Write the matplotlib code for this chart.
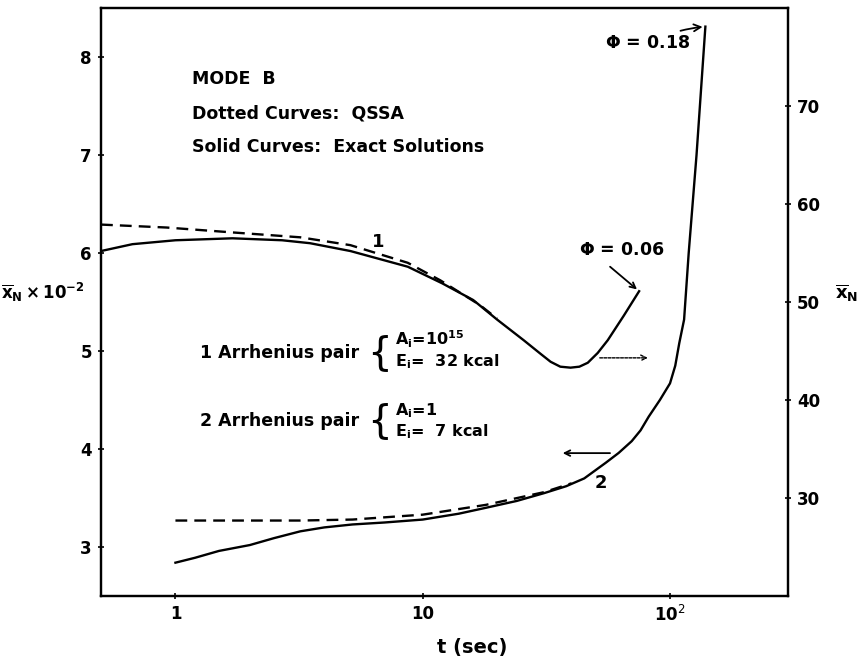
import matplotlib
matplotlib.use("Agg")
import matplotlib.pyplot as plt

# curve 1 (right axis, x_N): exact solution and QSSA
t1 = [0.5, 0.67, 1.0, 1.7, 2.7, 3.5, 5.1, 8.7, 12, 16, 20, 25.6, 30, 32.9, 36, 39.6, 43, 46.5, 51, 56, 65, 75]
x1 = [55.2, 55.9, 56.3, 56.5, 56.3, 56.0, 55.2, 53.6, 51.9, 50.2, 48.2, 46.1, 44.7, 43.9, 43.4, 43.3, 43.4, 43.8, 44.8, 46.1, 48.6, 51.1]
t1_q = [0.5, 0.92, 1.7, 3.2, 5.1, 8.7, 11.8, 17, 20]
x1_q = [57.9, 57.6, 57.1, 56.6, 55.8, 54.0, 52.2, 49.7, 48.3]

# curve 2 (left axis, x_N * 1e-2)
t2 = [1.0, 1.2, 1.5, 2.0, 2.5, 3.2, 4.0, 5.2, 7.0, 10, 14, 18, 24, 31, 38, 45, 55, 62, 70, 76, 82,
      91, 100, 105, 109, 114, 119, 128, 139]
x2 = [2.84, 2.89, 2.96, 3.02, 3.09, 3.16, 3.20, 3.23, 3.25, 3.28, 3.34, 3.40, 3.47, 3.55, 3.62, 3.70,
      3.86, 3.96, 4.08, 4.19, 4.33, 4.50, 4.67, 4.85, 5.08, 5.32, 6.0, 7.0, 8.31]
t2_q = [1.0, 2.0, 3.2, 5.2, 10, 18, 31, 40]
x2_q = [3.27, 3.27, 3.27, 3.28, 3.33, 3.43, 3.56, 3.65]

xticks = [1, 10, 100]
xticklabels = ['1', '10', r'10$^2$']
left_ticks = [3, 4, 5, 6, 7, 8]
right_ticks = [30, 40, 50, 60, 70]

fig = plt.figure(figsize=(8.62, 6.6), dpi=100)
ax = fig.add_axes([101/862, 1 - 596/660, 687/862, 588/660])
ax2 = ax.twinx()

dash = (0, (5, 3))
ax.plot(t2, x2, color='black', lw=1.7)
ax.plot(t2_q, x2_q, color='black', lw=1.7, linestyle=dash)
ax2.plot(t1, x1, color='black', lw=1.7)
ax2.plot(t1_q, x1_q, color='black', lw=1.7, linestyle=dash)

ax.set_xscale('log')
ax.set_xlim(0.5, 300)
ax.set_ylim(2.5, 8.5)
ax2.set_ylim(20, 80)

ax.set_xticks(xticks)
ax.set_xticklabels(xticklabels)
ax.xaxis.set_minor_locator(matplotlib.ticker.NullLocator())
ax.set_yticks(left_ticks)
ax2.set_yticks(right_ticks)
for a in (ax, ax2):
    a.tick_params(direction='inout', length=5, width=1.2, labelsize=12, pad=4)
    for s in a.spines.values():
        s.set_linewidth(1.6)
    for lab in a.get_xticklabels() + a.get_yticklabels():
        lab.set_fontweight('bold')

ax.text(-0.085, 0.517, r'$\mathbf{\overline{x}_N\times10^{-2}}$', transform=ax.transAxes,
        ha='center', va='center', fontsize=12)
ax.text(1.085, 0.515, r'$\mathbf{\overline{x}_N}$', transform=ax.transAxes,
        ha='center', va='center', fontsize=13)
ax.text(0.541, -0.087, 't (sec)', transform=ax.transAxes, ha='center', va='center',
        fontsize=14, fontweight='bold')

tx = dict(transform=ax.transAxes, va='center', fontsize=12.5, fontweight='bold')
ax.text(0.132, 0.879, 'MODE  B', **tx)
ax.text(0.132, 0.821, 'Dotted Curves:  QSSA', **tx)
ax.text(0.132, 0.764, 'Solid Curves:  Exact Solutions', **tx)

sm = dict(transform=ax.transAxes, va='center', fontsize=11.5, fontweight='bold')
ax.text(0.144, 0.413, '1 Arrhenius pair', **tx)
ax.text(0.405, 0.413, '{', transform=ax.transAxes, va='center', ha='center', fontsize=28)
ax.text(0.428, 0.437, r'A$_\mathbf{i}$=10$^\mathbf{15}$', **sm)
ax.text(0.428, 0.398, r'E$_\mathbf{i}$=  32 kcal', **sm)

ax.text(0.144, 0.298, '2 Arrhenius pair', **tx)
ax.text(0.405, 0.298, '{', transform=ax.transAxes, va='center', ha='center', fontsize=28)
ax.text(0.428, 0.316, r'A$_\mathbf{i}$=1', **sm)
ax.text(0.428, 0.279, r'E$_\mathbf{i}$=  7 kcal', **sm)

ax.text(0.403, 0.602, '1', transform=ax.transAxes, ha='center', va='center',
        fontsize=13, fontweight='bold')
ax.text(0.728, 0.192, '2', transform=ax.transAxes, ha='center', va='center',
        fontsize=13, fontweight='bold')

# which axis each curve belongs to
ax.annotate('', xy=(0.800, 0.405), xytext=(0.722, 0.405), xycoords='axes fraction',
            arrowprops=dict(arrowstyle='->', lw=1.0, linestyle=(0, (2, 1)), color='black'))
ax.annotate('', xy=(0.668, 0.243), xytext=(0.745, 0.243), xycoords='axes fraction',
            arrowprops=dict(arrowstyle='->', lw=1.3, color='black'))

ax.text(0.758, 0.588, r'$\mathbf{\Phi}$ = 0.06', transform=ax.transAxes, ha='center',
        va='center', fontsize=12.5, fontweight='bold')
ax2.annotate('', xy=(t1[-1], x1[-1]), xytext=(0.741, 0.560),
             textcoords='axes fraction',
             arrowprops=dict(arrowstyle='->', lw=1.3, color='black', shrinkA=0, shrinkB=2))
ax.annotate(r'$\mathbf{\Phi}$ = 0.18', xy=(t2[-1], x2[-1]), xytext=(0.796, 0.940),
            textcoords='axes fraction', ha='center', va='center', fontsize=12.5,
            fontweight='bold',
            arrowprops=dict(arrowstyle='->', lw=1.3, color='black', shrinkA=2, shrinkB=2,
                            connectionstyle='arc3,rad=-0.1'))

fig.savefig('out.png', dpi=100)
